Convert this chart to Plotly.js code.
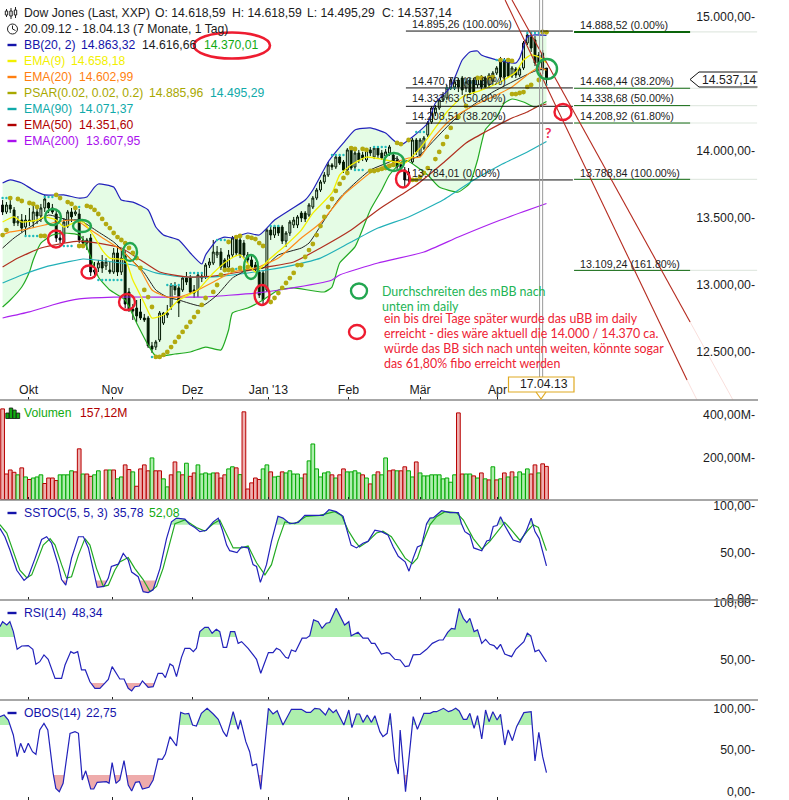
<!DOCTYPE html>
<html><head><meta charset="utf-8">
<script src="https://cdn.plot.ly/plotly-3.0.1.min.js"></script>
<style>html,body{margin:0;padding:0;background:#fff}#c{width:789px;height:800px}</style></head>
<body><div id="c"></div>
<script>
const monthTickPos=[6.8,28.7,49.6,69.4,90.3,109,129.2];
const monthTickText=['Okt','Nov','Dez',"Jan '13",'Feb','Mär','Apr'];

const open=[13597,13545,13597,13560,13463,13485,13433,13485,13470,13545,
13515,13575,13612,13575,13530,13351,13321,13440,13545,13530,
13530,13336,13313,13351,13097,13127,13172,13142,13112,13097,
13239,13097,13216,12948,12821,12828,12799,12754,12754,12545,
12537,12590,12716,12776,12836,13000,12978,12963,13052,13052,
12963,12963,13067,13060,13149,13164,13224,13246,13187,13134,
13224,13351,13336,13313,13224,13187,13149,13097,13090,12963,
13410,13373,13433,13433,13328,13388,13448,13448,13537,13537,
13522,13582,13649,13709,13769,13821,13896,13881,13955,13918,
13858,14008,13881,13985,13970,13933,14008,13955,14022,13985,
13963,13985,13970,13933,13896,13858,13821,13918,14082,13970,
14022,14120,14217,14284,14321,14381,14396,14470,14478,14530,
14545,14470,14530,14530,14493,14552,14545,14493,14522,14582,
14687,14679,14664,14560,14612,14567,14620,14806,14851,14829,
14717,14731,14619];
const close=[13545,13597,13567,13463,13478,13425,13485,13478,13545,13515,
13575,13642,13575,13545,13351,13336,13470,13545,13508,13545,
13336,13313,13336,13097,13112,13164,13127,13172,13097,13239,
13097,13201,12858,12814,12806,12769,12754,12739,12545,12522,
12575,12791,12791,12791,13000,12963,12866,13052,13022,12948,
12940,13075,13052,13149,13172,13246,13246,13134,13127,13224,
13351,13239,13224,13224,13187,13134,13127,12925,12888,13410,
13373,13433,13388,13328,13388,13470,13485,13508,13500,13493,
13597,13649,13709,13769,13821,13896,13881,13955,13910,13858,
14008,13873,13985,13933,13948,14008,13985,14022,13970,13948,
13993,14030,13918,13881,13873,13784,13843,14082,13993,14082,
14097,14209,14321,14321,14381,14418,14470,14530,14515,14478,
14455,14515,14440,14440,14545,14478,14478,14567,14582,14620,
14552,14552,14560,14620,14567,14612,14806,14866,14769,14657,
14657,14605,14537];
const high=[13634,13619,13634,13582,13515,13530,13522,13575,13597,13597,
13605,13672,13619,13605,13560,13410,13500,13560,13575,13590,
13567,13366,13351,13381,13172,13187,13224,13201,13172,13276,
13299,13261,13261,12978,12858,12888,12896,12784,12769,12575,
12590,12806,12799,12851,13015,13022,12993,13067,13097,13075,
13000,13090,13097,13164,13201,13336,13291,13276,13201,13261,
13366,13366,13366,13336,13246,13216,13172,13112,13112,13425,
13440,13448,13448,13448,13403,13485,13508,13522,13552,13552,
13612,13664,13724,13784,13843,13918,13910,13970,13970,13933,
14022,14022,14000,14008,13993,14022,14030,14037,14037,14008,
14015,14045,13993,13963,13918,13881,13873,14097,14097,14097,
14112,14224,14336,14343,14396,14440,14493,14545,14537,14545,
14560,14545,14545,14545,14560,14567,14560,14582,14597,14634,
14702,14694,14679,14634,14627,14627,14821,14881,14881,14858,
14739,14754,14619];
const low=[13522,13530,13537,13440,13440,13396,13366,13440,13425,13455,
13470,13545,13537,13530,13321,13313,13313,13425,13470,13515,
13313,13291,13261,13067,13052,13097,13090,13112,13082,13082,
13067,13075,12828,12799,12739,12724,12739,12724,12530,12493,
12515,12575,12702,12754,12814,12925,12761,12948,13000,12933,
12903,12910,13022,13045,13127,13149,13201,13112,13097,13112,
13201,13216,13201,13201,13157,13112,13097,12903,12858,12948,
13336,13351,13366,13306,13284,13366,13425,13425,13470,13470,
13508,13567,13634,13694,13754,13806,13858,13866,13896,13836,
13843,13858,13866,13910,13925,13918,13963,13940,13948,13933,
13948,13963,13896,13858,13843,13739,13769,13903,13970,13955,
14008,14105,14202,14261,14306,14366,14381,14455,14455,14440,
14418,14440,14418,14425,14470,14455,14470,14470,14493,14567,
14530,14530,14545,14545,14545,14552,14605,14791,14739,14634,
14620,14575,14495];
const barIndex=open.map((_,i)=>i);

const bbUpperX=[0,2,5,8,11,16,20,22,24,25,29,31,34,38,40,42,46,49,52,53,56,58,60,64,67,71,75,79,81,85,87,89,92,96,100,102,104,107,111,113,117,120,122,124,125,130,134,135,137,139,142];
const bbUpper=[13761,13784,13761,13709,13672,13672,13649,13657,13731,13754,13731,13634,13619,13560,13433,13373,13336,13239,13157,13224,13336,13358,13351,13388,13373,13485,13560,13634,13709,13918,13993,14060,14157,14172,14134,14082,14045,14105,14209,14358,14478,14679,14739,14746,14717,14672,14657,14694,14851,14866,14863];
const bbLowerX=[0,2,5,7,8,10,13,16,20,22,25,28,32,35,38,40,45,49,53,57,59,60,64,68,72,76,84,86,88,92,96,99,101,105,111,114,119,122,124,126,129,131,133,136,139,142];
const bbLower=[12836,12888,12985,13097,13187,13313,13373,13388,13373,13284,13060,12963,12888,12716,12552,12470,12485,12500,12537,12515,12664,12791,12828,12888,12963,12978,12948,12985,13164,13284,13560,13709,13821,13933,13821,13731,13694,13761,13933,14157,14254,14358,14388,14366,14328,14370];
const bbMidX=[0,3,8,12,17,20,25,29,33,37,40,43,46,52,56,60,64,68,72,78,80,84,88,92,96,101,103,104,109,112,117,120,124,128,133,139,142];
const bbMid=[13276,13351,13448,13522,13485,13485,13396,13321,13209,13090,12963,12910,12888,12843,12925,13052,13112,13127,13224,13276,13313,13485,13649,13761,13858,13918,13948,13910,13970,14060,14209,14284,14366,14440,14515,14597,14616];

const ema9X=[0,3,5,9,11,14,16,19,21,24,26,28,32,34,37,39,42,46,51,55,59,62,66,70,74,78,81,86,88,91,95,100,105,109,112,116,120,125,130,134,136,138,140,142];
const ema9=[13470,13508,13470,13485,13508,13485,13433,13470,13470,13358,13261,13201,13187,13037,12866,12754,12776,12888,12963,13090,13187,13224,13097,13201,13299,13410,13537,13687,13821,13896,13955,13933,13910,14022,14134,14291,14403,14455,14515,14590,14679,14717,14702,14658];
const ema20X=[0,2,5,11,14,18,20,23,27,31,36,39,43,46,51,56,60,66,72,78,83,89,93,97,102,106,109,112,116,120,125,129,133,138,140,142];
const ema20=[13373,13396,13410,13448,13470,13485,13470,13410,13336,13261,13112,12963,12910,12910,12963,13037,13097,13127,13201,13351,13463,13672,13769,13858,13910,13948,13955,14082,14209,14291,14366,14418,14478,14590,14620,14603];
const ema50X=[0,4,10,16,20,25,31,36,41,48,55,62,69,76,83,91,98,104,108,115,121,126,133,137,140,142];
const ema50=[13134,13201,13276,13313,13328,13313,13276,13187,13097,13060,13067,13097,13134,13172,13276,13410,13560,13672,13746,13910,14060,14142,14246,14291,14336,14351];
const ema90X=[0,5,11,17,21,27,34,40,47,55,62,69,76,83,91,98,106,115,123,130,137,142];
const ema90=[13015,13075,13134,13172,13194,13179,13149,13090,13060,13060,13082,13112,13149,13201,13321,13425,13508,13634,13784,13896,13993,14071];
const ema200X=[0,7,13,20,29,43,52,66,74,86,88,98,110,119,130,142];
const ema200=[12754,12799,12851,12896,12910,12910,12910,12940,12970,13037,13075,13164,13246,13358,13485,13608];

const psarX=[0,1,2,4,5,7,8,9,10,11,14,15,17,18,19,20,21,22,23,24,25,26,27,28,29,30,31,32,33,34,35,36,37,38,39,40,41,42,43,44,45,46,47,48,49,50,51,52,53,55,56,57,58,59,61,62,64,65,66,67,68,59,60,62,64,70,71,72,73,74,75,76,77,78,79,80,81,82,83,84,85,86,87,88,89,90,91,92,94,95,96,97,98,99,100,101,102,103,104,106,107,108,109,110,111,113,114,115,116,117,119,121,124,125,127,128,130,132,133,133,134,135,136,137,138,140,141,142];
const psar=[13373,13410,13649,13642,13627,13612,13605,13582,13366,13366,13672,13649,13619,13605,13575,13291,13291,13590,13582,13560,13530,13493,13455,13425,13388,13358,13336,13313,13276,13239,13201,13127,12963,12910,12836,12463,12463,12478,12500,12537,12575,12612,12650,12687,12724,12761,12799,12851,12903,12948,13000,13075,13112,13321,13358,13366,13358,13351,13343,13313,13291,13112,13112,13127,13134,12873,12903,12940,12978,13015,13052,13090,13149,13149,13209,13261,13306,13373,13440,13508,13582,13642,13702,13754,13799,13836,14022,14015,14015,14008,13851,13851,13858,13866,13873,13888,13896,14060,14052,14082,13784,13784,13806,13836,13873,13940,13993,14052,14105,14172,14254,14336,14545,14545,14545,14552,14679,14679,14672,14425,14425,14433,14440,14478,14493,14530,14888,14886];
const stopX=[0,1,2,null,6,7,8,9,null,11,12,13,null,15,16,17,18,null,19,20,null,25,26,27,28,29,30,31,null,39,40,41,null,43,44,45,46,null,49,50,51,52,null,56,57,58,null,59,60,61,62,null,70,71,72,null,86,87,88,89,null,92,93,94,null,97,98,99,100,null,108,109,110,null,116,117,118,null,129,130,131,132,null,134,135,136,null,137,138,139,140,141,null,142];
const stopY=[13649,13649,13649,null,13366,13366,13366,13366,null,13657,13657,13657,null,13291,13291,13291,13291,null,13582,13582,null,13037,13037,13037,13037,13037,13037,13037,null,12463,12463,12463,null,13000,13000,13000,13000,null,13090,13090,13090,13090,null,13336,13336,13336,null,13119,13119,13119,13119,null,13440,13440,13440,null,13970,13970,13970,13970,null,13858,13858,13858,null,14030,14030,14030,14030,null,14142,14142,14142,null,14470,14470,14470,null,14679,14679,14679,14679,null,14433,14433,14433,null,14881,14881,14881,14881,14881,null,14495];

const fibLeft=[14895.26,14470.76,14333.63,14208.51,13784.01];
const fibLeftText=['14.895,26 (100.00%)','14.470,76 (61.80%)','14.333,63 (50.00%)','14.208,51 (38.20%)','13.784,01 (0.00%)'];
const fibRight=[14888.52,14468.44,14338.68,14208.92,13788.84,13109.24];
const fibRightText=['14.888,52 (0.00%)','14.468,44 (38.20%)','14.338,68 (50.00%)','14.208,92 (61.80%)','13.788,84 (100.00%)','13.109,24 (161.80%)'];
const trendAX=[131.2,178.7],trendAY=[15127,12291],trendAFadeX=[178.7,181.3],trendAFadeY=[12291,12142];
const trendBX=[133,179.5],trendBY=[15127,12724],trendBFadeX=[179.5,190.7],trendBFadeY=[12724,12142];

const volume=[429,121,140,129,117,150,107,95,102,107,117,76,102,102,90,117,117,117,136,131,240,121,121,110,117,136,null,140,140,140,98,107,164,142,131,63,145,164,136,197,136,136,98,60,117,178,131,117,172,110,126,164,121,126,121,126,126,102,117,145,155,150,118,415,50,79,102,95,145,164,131,107,110,131,126,136,121,121,102,121,183,263,145,107,126,131,117,102,117,145,131,131,136,126,117,102,74,117,131,117,197,136,140,136,136,155,136,107,178,126,112,112,117,117,117,98,102,82,117,410,121,121,121,112,102,126,98,93,155,93,98,126,107,131,107,131,121,145,121,164,126,169,157];
const volumeDir=('rrrrgrgrgggrrrrggggr'+'rgrrggxrgrggrrgrrrrg'+'rrggrrgrgrrgggggrrrg'+'grgrrrrrggrggrgggggr'+'ggggggrgrrggggrgrgrg'+'grrgrrggrggggggggggr'+'rggrgrgrgrgrgrggggrr'+'grr').split('');

const kX=[-0.7,0.6,1.9,3.7,5.6,6.7,8.5,10.2,11.5,12.8,14.5,15.4,16.5,18,19.8,21.1,22.4,23.7,24.7,26.4,27.6,28.4,30.2,31.5,32.8,33.7,35.4,36.7,38,39.3,41.1,42.8,44.1,45.4,47.6,48.9,50.2,51.5,53.2,55,56.3,57.4,58.5,59.3,61.2,62.4,64.1,65.4,66.3,67.3,68.9,70.2,71.9,73.2,75,77.2,78.9,81.5,83.7,85.2,87.1,88.9,90.2,91,92.4,94.1,95.4,97.2,98.9,100.6,102,103.3,105.1,106.1,107.2,108.3,109.4,110.7,111.6,112.5,114.6,116.8,119,119.8,120.7,122,123,125.1,126.4,127.2,128.1,129.1,130,131.1,132.5,133.3,135.1,136.8,138,139,140.1,141,142];
const k=[76,67,53,31,20,24,44,64,67,60,37,21,15,44,67,67,55,31,12.5,13.6,22.5,35,37.5,49,42,29,24,8,7,10,33,65,83,87,86,80,77,72.5,74,83,87,74,58,52,50,56,55,37,35,18,37,62,89,87,81,82.5,90,90,90,96,94,89,71,58,55,60,62,74,72.5,69,56,46,40,30,44,56,58,81,87,87.5,95,93,93,81,72.5,69,55,52,62.5,63.5,78,79,88.5,79,69,63.5,61,74,87,72.5,65,51,35.78];
const dX=[-0.7,1.1,2.8,4.5,6.3,7.6,9.3,10.6,12.4,13.7,15.4,16.7,18,19.8,21.5,22.8,24.5,26.3,27.6,29.3,30.6,32.8,34.5,36.7,38.5,40.2,41.9,43.7,45,47.6,50.6,52.8,55,56.7,58.5,60.2,62.4,64.1,66.3,68.5,70.2,71.9,73.7,76.3,79.3,82.8,86.7,88.5,90.2,92,93.2,95.4,97.6,99.3,101.5,103.5,105.1,107,108.3,109.8,111.6,113.3,115.5,118.5,120.3,122.9,125.1,127.2,129.4,131.1,132.5,135.1,137.2,138.5,139.9,142];
const d=[80,71,51,31,23,26,44,58,65,58,37,22.5,24,47.5,65,58,33,13.6,15,31,40,44.6,33,21,8,13.6,33,62,81,85,77,73,81,85,69,55,55,57,39,26,37,62,83,81,89,90,94,90,74,62,56,62,71,73,67,54,44,38,44,62,80,88.5,94,93,85,65,53.6,62,74,82.5,76,63,74,80,77,52.08];

const rsiX=[-0.7,0,1.1,1.9,2.8,3.8,5,6.7,7.9,8.7,9.7,10.8,11.9,13.7,15.4,16.3,17.8,18.6,19.6,20.6,21.6,22.8,24.1,25.4,27.6,28.6,30.6,31.7,32.8,33.7,34.5,35.7,36.5,38,39.3,40.6,41.7,42.5,43.7,44.5,45.4,46.7,47.6,48.9,49.8,50.6,51.5,52.8,53.7,54.7,55.8,56.7,57.6,58.5,59.5,60.6,61.5,62.4,64.1,66.3,67.4,69.4,70.6,71.5,72.4,73.9,74.6,75.4,76.5,78.2,79.3,80.2,81.2,82.4,83.4,84.5,85.4,87.1,89.3,90.4,91,92.8,94.1,95.4,96.3,97.2,98.9,100.3,101,102.4,103.8,105.1,106.1,107.2,109,110.7,112.2,114,115,116.2,117.2,118.1,119.2,120.3,121.2,122,123.1,124,125.1,126.1,127.2,128.3,129.1,130,131.1,132.9,134,136.1,137,137.9,139,140,142];
const rsi=[79,83.4,80.5,83.4,74.7,59.3,62.2,62.5,59.3,46.2,48.5,54.4,50.6,34,34,45.6,57.3,55.8,57.3,41.3,41.3,31,25.3,25.3,33.1,44.2,33.4,33.4,25.3,23,26.7,27.3,31.7,26.2,26.7,38.4,38.4,34.6,46.5,44.8,35.5,52.3,60.2,60.2,57.3,60.2,74.7,78.5,78.5,73.3,76.7,74.7,61,61,74.7,74.7,64.5,66,60.2,50.6,38.4,56.4,56.4,60.2,58.7,52.3,51.5,58.7,57.3,69,69,71.2,85,83.4,77.6,82,82.6,95,80.5,83.4,71,74.1,69,69,64.5,64.5,55.2,56.4,55.8,50.6,50,44.2,44.8,54.4,54.9,59.3,64.5,67.4,67.4,74.1,77.6,77,95,86.3,82.6,86.3,74.7,76.2,64.5,68,63.7,62.5,59.6,63.7,55.2,52.9,59.3,66,73.3,71,57.3,58.7,48.34];

const obosX=[-0.7,0.4,1.5,2.8,3.8,4.7,5.7,6.7,7.8,8.7,9.7,10.8,11.8,13.2,13.9,14.8,15.8,17.6,18.9,19.8,20.8,21.7,23,23.8,24.7,27.1,27.8,28.6,29.6,30.6,31.7,32.8,33.7,34.7,35.7,36.5,38.2,39.3,40.6,41.7,42.5,43.7,45.4,46.5,47.6,48.6,49.6,50.6,51.9,53.4,55,56.3,57.6,58.5,60.2,61.5,62.1,63.5,64.5,65.2,66.3,67.4,69.4,70.6,71.7,73.2,75.4,78,79.3,80.4,81.5,82.8,84.3,85.2,86.3,87.1,89.1,90.4,91.2,92.4,93.2,94.1,95.2,96.3,97.2,98.5,99.3,100.4,101.2,102.4,103.3,103.8,105.2,107.2,108.3,110,111.6,112.5,113.3,115.1,116.4,117.2,118.3,119.2,120.3,121.2,122,123.1,124,125.1,126.1,127,128,129.1,130,131.1,132,133.1,134.2,136.1,138,139,140,141,142];
const obos=[90,92,86,68,42,58,46.8,58,48,44.8,74,82,74,22,4,0,10,70,72,70,14,25,3.2,3.2,11.2,12,10,34.8,10,14,37.2,8,0.8,11.2,12,3.2,5.2,14,39.2,38.8,45.2,66,54.8,95.2,93.2,94,80,78.8,94,100,93.2,86.8,72,66,96,74.8,86,60,48,31.2,33.2,2.8,100,93.2,97.2,80,98.8,98.8,95.2,95.2,100,99.2,92,100,94.8,98,80,98,76.8,93.2,93.2,83.2,92,83.2,91.2,72,66,70,94,38,21.2,74,0,90,74.8,94,94,96,96,100,96,97.2,100,96.8,86.8,86.8,94,76,91.2,63.2,98,84,96,86,92.8,56,74,61.2,78,94.8,96,36.8,71.2,42,22.75];

const W=789,H=800;
const px=x=>x/W, py=y=>1-y/H;
const GREEN_FILL='#adefad',RED_FILL='#eeabab';

// Closed polygons between an oscillator curve and a level, on the chosen side of it.
function band(xs,ys,level,above){
  const ox=[],oy=[];let open_=false;
  const inside=v=>above?v>=level:v<=level;
  for(let i=0;i<xs.length;i++){
    const here=inside(ys[i]);
    if(i>0&&here!==inside(ys[i-1])){
      const t=(level-ys[i-1])/(ys[i]-ys[i-1]);
      const cx=xs[i-1]+t*(xs[i]-xs[i-1]);
      ox.push(cx);oy.push(level);
      if(open_){ox.push(null);oy.push(null);open_=false;}else open_=true;
    }else if(i===0&&here){ox.push(xs[0]);oy.push(level);open_=true;}
    if(here){ox.push(xs[i]);oy.push(ys[i]);}
  }
  return {x:ox,y:oy};
}
const line=(x,y,color,width,ya,extra)=>Object.assign({type:'scatter',mode:'lines',x,y,yaxis:ya,xaxis:ya==='y'?'x':'x'+ya.slice(1),line:{color,width,shape:'linear'}},extra||{});
const areaTrace=(b,color,ya)=>({type:'scatter',mode:'lines',x:b.x,y:b.y,yaxis:ya,xaxis:'x'+ya.slice(1),fill:'toself',fillcolor:color,line:{width:0,color:color}});

const SPL={shape:'spline',smoothing:0.5};
const traces=[];
traces.push({type:'candlestick',x:barIndex,open,high,low,close,xaxis:'x',yaxis:'y',whiskerwidth:0,
  increasing:{line:{color:'#000',width:1},fillcolor:'#fff'},decreasing:{line:{color:'#000',width:1},fillcolor:'#000'}});
traces.push({type:'scatter',mode:'lines',x:bbLowerX,y:bbLower,line:Object.assign({color:'#22aa22',width:1.2},SPL)});
traces.push({type:'scatter',mode:'lines',x:bbUpperX,y:bbUpper,fill:'tonexty',fillcolor:'rgba(0,225,0,0.10)',line:Object.assign({color:'#2222bb',width:1.2},SPL)});
traces.push({type:'scatter',mode:'lines',x:ema200X,y:ema200,line:Object.assign({color:'#aa22ee',width:1.2},SPL)});
traces.push({type:'scatter',mode:'lines',x:ema90X,y:ema90,line:Object.assign({color:'#22b0b8',width:1.2},SPL)});
traces.push({type:'scatter',mode:'lines',x:ema50X,y:ema50,line:Object.assign({color:'#b03020',width:1.2},SPL)});
traces.push({type:'scatter',mode:'lines',x:bbMidX,y:bbMid,line:Object.assign({color:'#222',width:1},SPL)});
traces.push({type:'scatter',mode:'lines',x:ema20X,y:ema20,line:Object.assign({color:'#ff8c1a',width:1.2},SPL)});
traces.push({type:'scatter',mode:'lines',x:ema9X,y:ema9,line:Object.assign({color:'#f2f000',width:1.3},SPL)});
traces.push({type:'scatter',mode:'markers',x:stopX,y:stopY,marker:{size:2.4,color:'#22bbbb'}});
traces.push({type:'scatter',mode:'markers',x:psarX,y:psar,marker:{size:4.8,color:'#b3aa10'}});
// Fibonacci levels
fibLeft.forEach(v=>traces.push({type:'scatter',mode:'lines',x:[105.3,148.9],y:[v,v],line:{color:'#111',width:1}}));
fibRight.forEach((v,i)=>{
  traces.push({type:'scatter',mode:'lines',x:[179.5,197],y:[v,v],line:{color:'#e2e9e2',width:1.2}});
  traces.push({type:'scatter',mode:'lines',x:[149.2,179.5],y:[v,v],line:{color:'#0a640a',width:i===0?2:1}});
});
// Trend channel
traces.push({type:'scatter',mode:'lines',x:trendAFadeX,y:trendAFadeY,line:{color:'#f9dfdc',width:1}});
traces.push({type:'scatter',mode:'lines',x:trendBFadeX,y:trendBFadeY,line:{color:'#f9dfdc',width:1}});
traces.push({type:'scatter',mode:'lines',x:trendAX,y:trendAY,line:{color:'#b52a1e',width:1.1}});
traces.push({type:'scatter',mode:'lines',x:trendBX,y:trendBY,line:{color:'#b52a1e',width:1.1}});
// Volume
traces.push({type:'bar',x:barIndex,y:volume,xaxis:'x2',yaxis:'y2',
  marker:{color:volumeDir.map(c=>c==='g'?'#aeeeae':'#eeb0b0'),line:{color:volumeDir.map(c=>c==='g'?'#00a800':'#b80000'),width:1}}});
// SSTOC
traces.push(areaTrace(band(kX,k,80,true),GREEN_FILL,'y3'));
traces.push(areaTrace(band(kX,k,20,false),RED_FILL,'y3'));
traces.push(line(dX,d,'#22aa22',1.2,'y3'));
traces.push(line(kX,k,'#2222bb',1.2,'y3'));
// RSI
traces.push(areaTrace(band(rsiX,rsi,70,true),GREEN_FILL,'y4'));
traces.push(areaTrace(band(rsiX,rsi,30,false),RED_FILL,'y4'));
traces.push(line(rsiX,rsi,'#2222bb',1.2,'y4'));
// OBOS
traces.push(areaTrace(band(obosX,obos,80,true),GREEN_FILL,'y5'));
traces.push(areaTrace(band(obosX,obos,20,false),RED_FILL,'y5'));
traces.push(line(obosX,obos,'#2222bb',1.2,'y5'));

const FONT='"Liberation Sans",Arial,sans-serif';
const TXT='#1c1c1c';
const LEG=12.2;
const ann=[];
function label(text,x,y,color,size,family,extra){
  ann.push(Object.assign({text,xref:'paper',yref:'paper',x:px(x),y:py(y),xanchor:'left',yanchor:'middle',showarrow:false,borderpad:0,
    font:{family:family||FONT,size:size||LEG,color:color||TXT}},extra||{}));
}
const BLUE='#1414aa',GRN='#11aa11',RD='#b00000';
[['Dow Jones (Last, XXP)',23],['O: 14.618,59',154],['H: 14.618,59',231],['L: 14.495,29',306],['C: 14.537,14',381]].forEach(t=>label(t[0],t[1],13));
label('20.09.12 - 18.04.13 (7 Monate, 1 Tag)',23,29);
label('BB(20, 2)',23,45,BLUE);label('14.863,32',80,45,BLUE);label('14.616,66',141,45);label('14.370,01',203,45,GRN);
label('EMA(9)',23,61,'#f2f000');label('14.658,18',70,61,'#f2f000');
label('EMA(20)',23,77,'#ff7f10');label('14.602,99',78,77,'#ff7f10');
label('PSAR(0.02, 0.02, 0.2)',23,93,'#a8a800');label('14.885,96',148,93,'#a8a800');label('14.495,29',209,93,'#10aaaa');
label('EMA(90)',23,109,'#10aaaa');label('14.071,37',78,109,'#10aaaa');
label('EMA(50)',23,125,RD);label('14.351,60',78,125,RD);
label('EMA(200)',23,141,'#aa10ee');label('13.607,95',85,141,'#aa10ee');
label('Volumen',23,413,GRN);label('157,12M',79,413,RD);
label('SSTOC(5, 5, 3)',23,513,BLUE);label('35,78',112,513,BLUE);label('52,08',148,513,GRN);
label('RSI(14)',23,613,BLUE);label('48,34',71,613,BLUE);
label('OBOS(14)',23,713,BLUE);label('22,75',85,713,BLUE);
const fibLeftPos=[24,81,98,116,173],fibRightPos=[25,81,98,116,173,264];
fibLeftText.forEach((t,i)=>label(t,411,fibLeftPos[i],TXT,10.7));
fibRightText.forEach((t,i)=>label(t,579,fibRightPos[i],TXT,10.7));
label('14.537,14',701,80,TXT,12.2);
const NOTE='Lato,"Open Sans",sans-serif';
label('Durchschreiten des mBB nach',381,291,'#22b455',12.4,NOTE);
label('unten im daily',381,306,'#22b455',12.4,NOTE);
['ein bis drei Tage später wurde das uBB im daily','erreicht - dies wäre aktuell die 14.000 / 14.370 ca.','würde das BB sich nach unten weiten, könnte sogar','das 61,80% fibo erreicht werden'].forEach((t,i)=>label(t,383,318+15*i,'#ee2233',12.4,NOTE));
label('<b>?</b>',544,132,'#ee2a50',14,NOTE);
label('17.04.13',519,384,TXT,12.2);

const shapes=[];
const seg=(x0,y0,x1,y1,color,width,layer)=>shapes.push({type:'line',xref:'paper',yref:'paper',x0:px(x0),y0:py(y0),x1:px(x1),y1:py(y1),line:{color,width},layer:layer||'above'});
const rect=(x0,y0,x1,y1,fill,lineColor,width)=>shapes.push({type:'rect',xref:'paper',yref:'paper',x0:px(x0),y0:py(y0),x1:px(x1),y1:py(y1),fillcolor:fill,line:{color:lineColor||fill,width:width===undefined?0:width},layer:'above'});
const ell=(cx,cy,rx,ry,color,w)=>shapes.push({type:'circle',xref:'paper',yref:'paper',x0:px(cx-rx),x1:px(cx+rx),y0:py(cy-ry),y1:py(cy+ry),line:{color,width:w||2.4},layer:'above'});
[400,500,600,700].forEach(y=>seg(0,y,758,y,'#8a8a8a',1.4));
// double cursor
shapes.push({type:'line',xref:'x',yref:'paper',x0:140.2,x1:140.2,y0:py(0),y1:py(378),line:{color:'#999',width:1},layer:'above'});
shapes.push({type:'line',xref:'x',yref:'paper',x0:141,x1:141,y0:py(0),y1:py(378),line:{color:'#999',width:1},layer:'above'});
// date flag
rect(508.5,377,574,392,'#fff','#e0aa22',1.2);
const P=(x,y)=>px(x)+','+py(y);
shapes.push({type:'path',xref:'paper',yref:'paper',path:'M '+P(536,392)+' L '+P(541,399)+' L '+P(546,392),line:{color:'#e0aa22',width:1.2},layer:'above'});
// last-price flag
shapes.push({type:'path',xref:'paper',yref:'paper',path:'M '+P(757.5,72)+' L '+P(699,72)+' L '+P(690,79.5)+' L '+P(699,87)+' L '+P(757.5,87),fillcolor:'#fff',line:{color:'#111',width:1},layer:'above'});
// hand-drawn rings
const RING_G='#22a650',RING_R='#ee1c30';
ell(53,217,8,8,RING_G);ell(82,226,9,6,RING_G);ell(130,252,7,9,RING_G);ell(251,267,7,12,RING_G);ell(394,162,10,9,RING_G);ell(547,69,10,10,RING_G);ell(359,291,8,7.5,RING_G);
ell(56,239,8,8.5,RING_R);ell(89,272,7.5,6.5,RING_R);ell(127,302,8,8,RING_R);ell(262,295,7.5,10,RING_R);ell(403,179,7,8.5,RING_R);ell(563,112,8.5,8,RING_R);ell(357,332,8,7,RING_R);
ell(232,45.5,38,13,RING_R,2.6);
// legend swatches
[[45,'#1414aa'],[61,'#f2f000'],[77,'#ff7f10'],[93,'#a8a800'],[109,'#10aaaa'],[125,'#b00000'],[141,'#aa10ee'],[513,'#1414aa'],[613,'#1414aa'],[713,'#1414aa']].forEach(s=>rect(7.5,s[0]-1.2,16.5,s[0]+1.2,s[1]));
// clock icon
ell(12.5,29,5,5,'#222',1);seg(12.5,29,12.5,25.5,'#222',1);seg(12.5,29,15.5,30.5,'#222',1);
// candle icon
[[6.5,9,17,11,15],[11,8,19,11,16],[15.5,7,18,10,15]].forEach(c=>{seg(c[0],c[1],c[0],c[2],'#222',1);rect(c[0]-1.2,c[3],c[0]+1.2,c[4],'#fff','#222',1);});
// volume icon
[[7.5,413,418.5],[11,408,418.5],[14.5,410,418.5],[18,413,418.5]].forEach(b=>rect(b[0]-1.7,b[1],b[0]+1.7,b[2],'#11aa11','#111',0.8));

const xCommon={type:'linear',range:[-0.679,205.32],showgrid:false,zeroline:false,showline:false,tickmode:'array',tickvals:monthTickPos,ticks:'inside',ticklen:3.5,tickcolor:'#222',tickwidth:1,fixedrange:true};
const yCommon={showgrid:false,zeroline:false,showline:false,side:'right',anchor:'free',position:758/W,ticklabelposition:'inside',ticks:'',tickmode:'array',ticklabeloverflow:'allow',fixedrange:true,tickfont:{family:FONT,size:12.3,color:TXT}};
const layout={width:W,height:H,margin:{l:0,r:0,t:0,b:0,pad:0},paper_bgcolor:'#fff',plot_bgcolor:'#fff',showlegend:false,bargap:0.03,hovermode:false,font:{family:FONT,size:LEG,color:TXT},
  xaxis:Object.assign({},xCommon,{anchor:'y',ticktext:monthTickText,showticklabels:true,ticklabelposition:'inside',tickfont:{family:FONT,size:12.3,color:TXT},rangeslider:{visible:false}}),
  xaxis2:Object.assign({},xCommon,{anchor:'y2',matches:'x',showticklabels:false}),
  xaxis3:Object.assign({},xCommon,{anchor:'y3',matches:'x',showticklabels:false}),
  xaxis4:Object.assign({},xCommon,{anchor:'y4',matches:'x',showticklabels:false}),
  xaxis5:Object.assign({},xCommon,{anchor:'y5',matches:'x',showticklabels:false}),
  yaxis:Object.assign({},yCommon,{domain:[0.5,1],range:[12141.8,15127],tickvals:[15000,14000,13500,13000,12500],ticktext:['15.000,00-','14.000,00-','13.500,00-','13.000,00-','12.500,00-']}),
  yaxis2:Object.assign({},yCommon,{domain:[0.375,0.5],range:[-2,471],tickvals:[400,200],ticktext:['400,00M-','200,00M-']}),
  yaxis3:Object.assign({},yCommon,{domain:[0.25,0.375],range:[-1,106.5],tickvals:[100,50,0],ticktext:['100,00-','50,00-','0,00-']}),
  yaxis4:Object.assign({},yCommon,{domain:[0.125,0.25],range:[15.1,102.3],tickvals:[100,50],ticktext:['100,00-','50,00-']}),
  yaxis5:Object.assign({},yCommon,{domain:[0,0.125],range:[-10,110],tickvals:[100,50,0],ticktext:['100,00-','50,00-','0,00-']}),
  annotations:ann,shapes:shapes};
Plotly.newPlot('c',traces,layout,{staticPlot:true,displayModeBar:false});
</script></body></html>
